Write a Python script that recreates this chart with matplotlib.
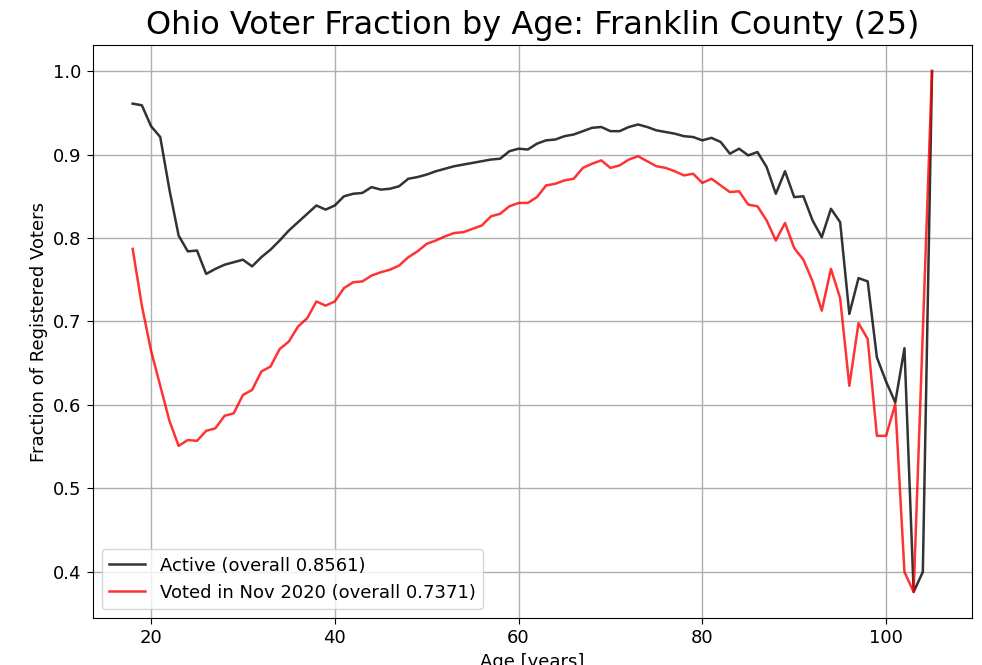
import matplotlib
matplotlib.use("Agg")
import matplotlib.pyplot as plt

ages = list(range(18, 106))

active = [
    0.961, 0.959, 0.934, 0.921, 0.858, 0.803, 0.784, 0.785, 0.757, 0.763,
    0.768, 0.771, 0.774, 0.766, 0.777, 0.786, 0.797, 0.809, 0.819, 0.829,
    0.839, 0.834, 0.839, 0.850, 0.853, 0.854, 0.861, 0.858, 0.859, 0.862,
    0.871, 0.873, 0.876, 0.880, 0.883, 0.886, 0.888, 0.890, 0.892, 0.894,
    0.895, 0.904, 0.907, 0.906, 0.913, 0.917, 0.918, 0.922, 0.924, 0.928,
    0.932, 0.933, 0.928, 0.928, 0.933, 0.936, 0.933, 0.929, 0.927, 0.925,
    0.922, 0.921, 0.917, 0.920, 0.915, 0.901, 0.907, 0.899, 0.903, 0.885,
    0.853, 0.880, 0.849, 0.850, 0.821, 0.801, 0.835, 0.819, 0.709, 0.752,
    0.748, 0.657, 0.628, 0.603, 0.668, 0.376, 0.400, 1.000,
]

voted = [
    0.787, 0.719, 0.665, 0.623, 0.581, 0.551, 0.558, 0.557, 0.569, 0.572,
    0.587, 0.590, 0.612, 0.618, 0.640, 0.646, 0.667, 0.676, 0.694, 0.704,
    0.724, 0.719, 0.724, 0.740, 0.747, 0.748, 0.755, 0.759, 0.762, 0.767,
    0.777, 0.784, 0.793, 0.797, 0.802, 0.806, 0.807, 0.811, 0.815, 0.826,
    0.829, 0.838, 0.842, 0.842, 0.849, 0.863, 0.865, 0.869, 0.871, 0.884,
    0.889, 0.893, 0.884, 0.887, 0.894, 0.898, 0.892, 0.886, 0.884, 0.880,
    0.875, 0.877, 0.866, 0.871, 0.863, 0.855, 0.856, 0.840, 0.838, 0.821,
    0.797, 0.818, 0.788, 0.774, 0.748, 0.713, 0.763, 0.728, 0.623, 0.698,
    0.679, 0.563, 0.563, 0.601, 0.400, 0.376, 0.688, 1.000,
]

overall_active = 0.8561
overall_voted = 0.7371

fig = plt.figure(figsize=(9.82, 6.65), dpi=100)
ax = fig.add_axes([0.0944, 0.0707, 0.8954, 0.8616])

ax.plot(ages, active, color="black", alpha=0.8, lw=1.8,
        label=f"Active (overall {overall_active:.4f})")
ax.plot(ages, voted, color="red", alpha=0.8, lw=1.8,
        label=f"Voted in Nov 2020 (overall {overall_voted:.4f})")

ax.grid(True, lw=1.0)
ax.set_title("Ohio Voter Fraction by Age: Franklin County (25)", fontsize=23, pad=8)
ax.set_xlabel("Age [years]", fontsize=13)
ax.set_ylabel("Fraction of Registered Voters", fontsize=13)
ax.tick_params(labelsize=13, length=4.5)
ax.legend(loc="lower left", fontsize=13)

fig.savefig("out.png", dpi=100)
